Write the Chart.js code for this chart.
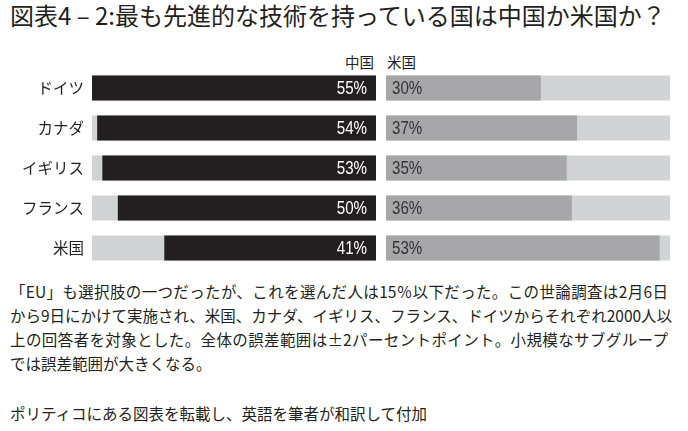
<!DOCTYPE html>
<html lang="ja">
<head>
<meta charset="utf-8">
<script src="https://cdn.jsdelivr.net/npm/chart.js@4.4.1/dist/chart.umd.min.js"></script>
<style>
  html, body { margin: 0; padding: 0; background: #fff; }
  body { width: 688px; height: 431px; position: relative; overflow: hidden;
         font-family: "Noto Sans CJK JP", sans-serif; color: #231f20; }
  .title { position: absolute; left: 10px; top: 1px; font-size: 24px; line-height: 28px; white-space: nowrap; }
  .legend { position: absolute; top: 52px; font-size: 14.5px; line-height: 20px; }
  canvas { position: absolute; }
  .note { position: absolute; left: 10px; width: 658px; font-size: 15.5px; line-height: 24px; }
  .note .j { display: block; text-align: justify; text-align-last: justify; white-space: nowrap; }
  .note .l { display: block; white-space: nowrap; }
</style>
</head>
<body>
<div class="title">図表4 – 2:最も先進的な技術を持っている国は中国か米国か？</div>
<div class="legend" style="right:314px">中国</div>
<div class="legend" style="left:387px">米国</div>
<canvas id="left" width="376" height="200" style="left:0;top:68px"></canvas>
<canvas id="right" width="284" height="200" style="left:386px;top:68px"></canvas>
<div class="note" style="top:279px">
  <span class="j">「EU」も選択肢の一つだったが、これを選んだ人は15％以下だった。この世論調査は2月6日</span>
  <span class="j">から9日にかけて実施され、米国、カナダ、イギリス、フランス、ドイツからそれぞれ2000人以</span>
  <span class="j">上の回答者を対象とした。全体の誤差範囲は±2パーセントポイント。小規模なサブグループ</span>
  <span class="l">では誤差範囲が大きくなる。</span>
</div>
<div class="note" style="top:401px"><span class="l">ポリティコにある図表を転載し、英語を筆者が和訳して付加</span></div>
<script>
const countries = ["ドイツ", "カナダ", "イギリス", "フランス", "米国"];
const chinaValues = [55, 54, 53, 50, 41];
const usValues = [30, 37, 35, 36, 53];
const axisMax = 55;

// no narrow font installed, so the numbers get squeezed sideways
const squeeze = 0.84;

const trackPlugin = {
  id: "track",
  beforeDatasetsDraw(chart) {
    const ctx = chart.ctx;
    const area = chart.chartArea;
    ctx.save();
    ctx.fillStyle = "#d1d2d4";
    chart.getDatasetMeta(0).data.forEach(bar => {
      const p = bar.getProps(["y", "height"], true);
      ctx.fillRect(area.left, p.y - p.height / 2, area.right - area.left, p.height);
    });
    ctx.restore();
  }
};

const valueLabels = {
  id: "valueLabels",
  afterDatasetsDraw(chart, args, opts) {
    const ctx = chart.ctx;
    const values = chart.data.datasets[0].data;
    ctx.save();
    ctx.font = "18px 'Liberation Sans', Arial, sans-serif";
    ctx.textBaseline = "middle";
    ctx.fillStyle = opts.color;
    ctx.textAlign = opts.side === "left" ? "right" : "left";
    chart.getDatasetMeta(0).data.forEach((bar, i) => {
      const p = bar.getProps(["y", "base"], true);
      const x = opts.side === "left" ? p.base - 9 : p.base + 6;
      ctx.save();
      ctx.translate(x, p.y + 1);
      ctx.scale(squeeze, 1);
      ctx.fillText(values[i] + "%", 0, 0);
      ctx.restore();
    });
    ctx.restore();
  }
};

function makeChart(id, values, color, side) {
  const yAxis = {
    display: side === "left",
    grid: { display: false, drawTicks: false },
    border: { display: false },
    ticks: { color: "#231f20", padding: 8,
             font: { family: "'Noto Sans CJK JP', sans-serif", size: 15.5 } }
  };
  if (side === "left") {
    yAxis.afterFit = scale => {
      scale.width = 92;
      scale.paddingTop = 0;
      scale.paddingBottom = 0;
    };
  }

  return new Chart(document.getElementById(id), {
    type: "bar",
    data: {
      labels: countries,
      datasets: [{ data: values, backgroundColor: color, borderWidth: 0,
                   categoryPercentage: 1, barPercentage: 0.625 }]
    },
    options: {
      indexAxis: "y",
      responsive: false,
      animation: false,
      layout: { padding: 0 },
      plugins: { legend: { display: false }, tooltip: { enabled: false },
                 valueLabels: { side: side, color: side === "left" ? "#ffffff" : "#333233" } },
      scales: {
        x: { display: false, min: 0, max: axisMax, reverse: side === "left" },
        y: yAxis
      }
    },
    plugins: [trackPlugin, valueLabels]
  });
}

makeChart("left", chinaValues, "#231f20", "left");
makeChart("right", usValues, "#a7a7a9", "right");
</script>
</body>
</html>
